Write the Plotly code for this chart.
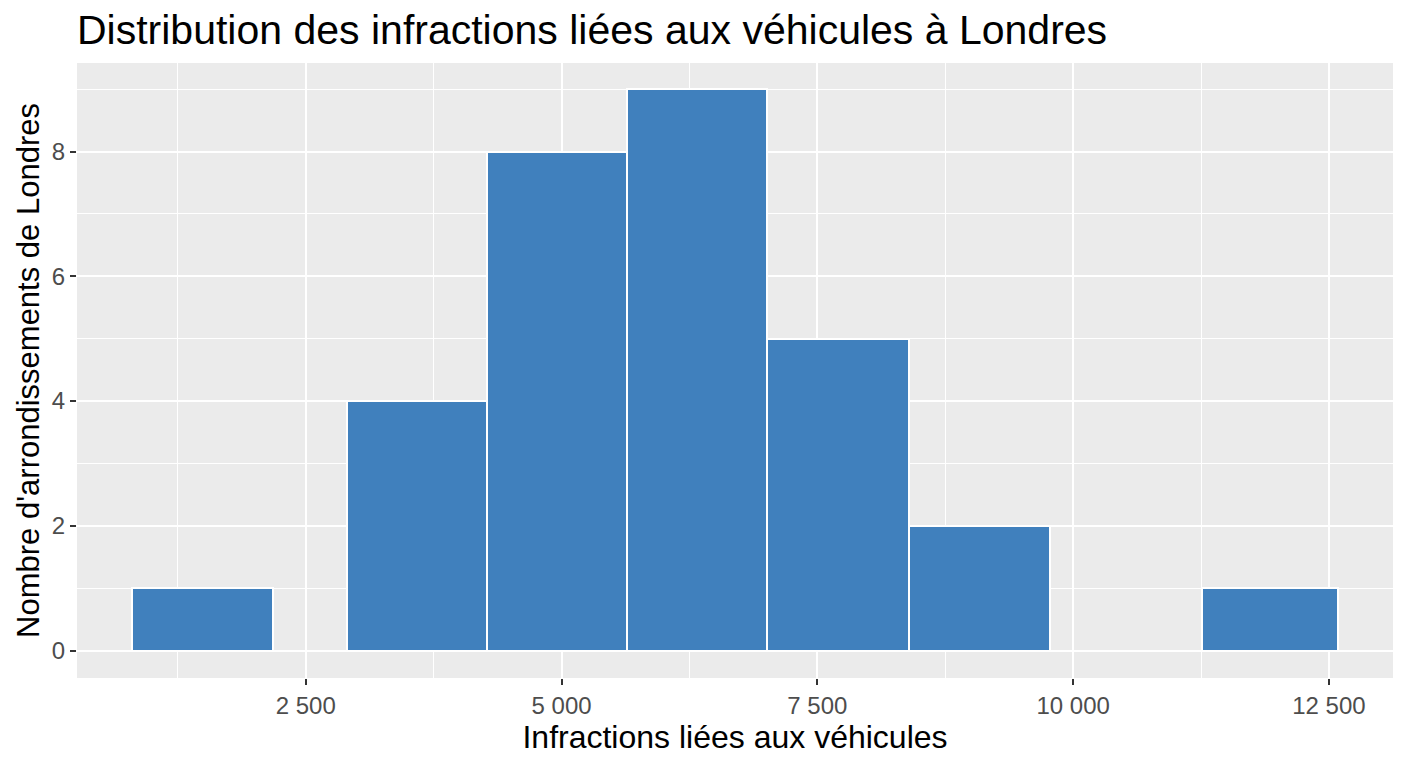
import plotly.graph_objects as go

# Histogram bins (left/right edges) and counts
bin_left = [806, 2901, 4274, 5643, 7011, 8394, 11259]
bin_right = [2180, 4274, 5643, 7011, 8394, 9773, 12588]
counts = [1, 4, 8, 9, 5, 2, 1]

x_ticks = [2500, 5000, 7500, 10000, 12500]
x_tick_labels = ["2 500", "5 000", "7 500", "10 000", "12 500"]
y_ticks = [0, 2, 4, 6, 8]

title = "Distribution des infractions liées aux véhicules à Londres"
x_title = "Infractions liées aux véhicules"
y_title = "Nombre d'arrondissements de Londres"

centers = [(l + r) / 2 for l, r in zip(bin_left, bin_right)]
widths = [r - l for l, r in zip(bin_left, bin_right)]

FONT = "Liberation Sans, Arial, sans-serif"

fig = go.Figure(
    go.Bar(
        x=centers,
        y=counts,
        width=widths,
        marker=dict(color="#4080BD", line=dict(color="white", width=2)),
        hoverinfo="x+y",
    )
)

fig.update_layout(
    width=1408,
    height=768,
    paper_bgcolor="white",
    plot_bgcolor="#EBEBEB",
    margin=dict(l=77, r=15, t=63, b=90),
    showlegend=False,
    bargap=0,
    title=dict(
        text=title,
        x=0,
        xref="paper",
        xanchor="left",
        y=0.962,
        yref="container",
        yanchor="middle",
        font=dict(family=FONT, size=41, color="black"),
    ),
    font=dict(family=FONT),
)

fig.update_xaxes(
    range=[264, 13126],
    tickvals=x_ticks,
    ticktext=x_tick_labels,
    ticks="outside",
    ticklen=6,
    tickwidth=2,
    tickcolor="#333333",
    tickfont=dict(family=FONT, size=24, color="#4D4D4D"),
    showgrid=True,
    gridcolor="white",
    gridwidth=2,
    zeroline=False,
    showline=False,
    minor=dict(dtick=1250, tick0=0, showgrid=True, gridcolor="white", gridwidth=1, ticks=""),
    title=dict(text=x_title, font=dict(family=FONT, size=32, color="black"), standoff=6),
)

fig.update_yaxes(
    range=[-0.44, 9.42],
    tickvals=y_ticks,
    ticks="outside",
    ticklen=6,
    tickwidth=2,
    tickcolor="#333333",
    tickfont=dict(family=FONT, size=24, color="#4D4D4D"),
    showgrid=True,
    gridcolor="white",
    gridwidth=2,
    zeroline=False,
    showline=False,
    minor=dict(dtick=1, tick0=0, showgrid=True, gridcolor="white", gridwidth=1, ticks=""),
    title=dict(text=y_title, font=dict(family=FONT, size=31, color="black"), standoff=2),
)

fig.write_html("out.html")
